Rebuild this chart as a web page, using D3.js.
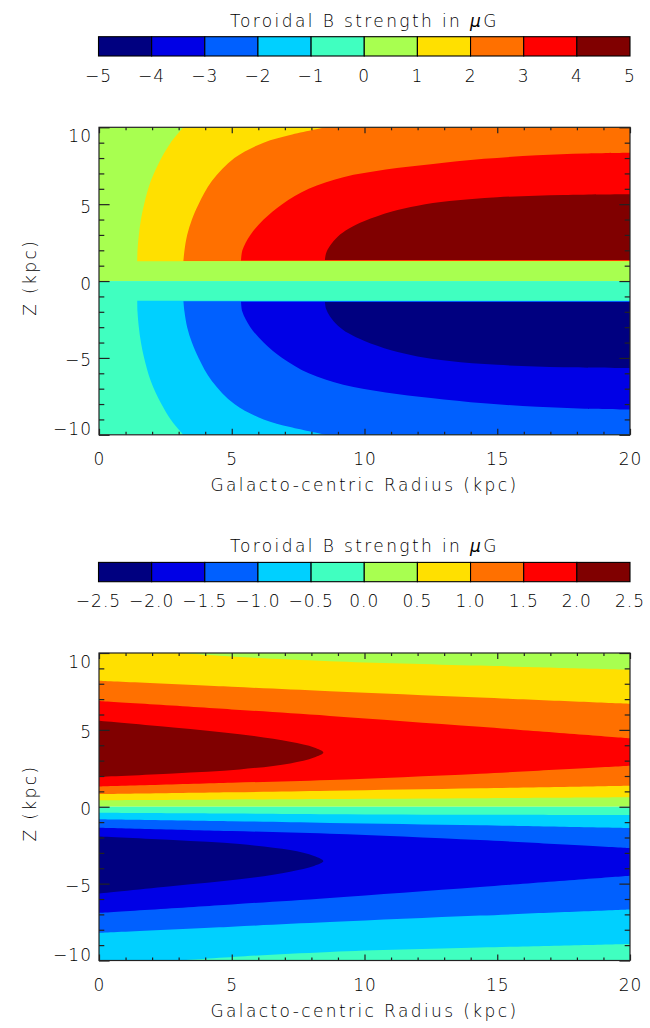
<!DOCTYPE html>
<html>
<head>
<meta charset="utf-8">
<script src="https://cdn.jsdelivr.net/npm/d3@7"></script>
<style>
  body { margin: 0; background: #fff; }
  svg text { font-family: "DejaVu Sans", sans-serif; font-weight: 200; font-size: 17px; fill: #000; letter-spacing: 1px; }
  svg text.title { letter-spacing: 2.4px; }
  .tick line { stroke: #222; stroke-width: 1.2; }
</style>
</head>
<body>
<svg id="chart" width="650" height="1028"></svg>
<script>
// ---------------- data ----------------
// one colour per band between consecutive contour levels
const bandColors = ["#000080", "#0000e6", "#0060ff", "#00d0ff", "#40ffc0",
                    "#a8ff50", "#ffe000", "#ff7000", "#ff0000", "#800000"];
const levelsDisk = [-5, -4, -3, -2, -1, 0, 1, 2, 3, 4, 5];
const levelsHalo = [-2.5, -2, -1.5, -1, -0.5, 0, 0.5, 1, 1.5, 2, 2.5];
const radiusTicks = [0, 5, 10, 15, 20];
const heightTicks = [-10, -5, 0, 5, 10];

// Disk field: contour of each level as [R (kpc), Z (kpc)]; the first point sits on
// the inner edge of the region, the last one on the top/bottom or right frame.
const diskPos1 = [[1.44, 1.28], [1.45, 2], [1.5, 3], [1.58, 4], [1.7, 5], [1.95, 6.5], [2.35, 8], [2.7, 9], [3.18, 10]];
const diskPos2 = [[3.18, 1.31], [3.22, 2], [3.32, 3], [3.5, 4], [3.75, 5], [4.25, 6.5], [5.1, 8], [6.2, 9], [7.2, 9.5], [8.55, 10]];
const diskPos3 = [[5.35, 1.34], [5.4, 2], [5.7, 3], [6.2, 4], [6.9, 5], [7.9, 6], [9.2, 6.75], [10.8, 7.25], [12.5, 7.6], [14.5, 7.95], [16.5, 8.18], [18.3, 8.3], [20, 8.35]];
const diskPos4 = [[8.51, 1.37], [8.55, 1.8], [8.7, 2.3], [9.0, 2.9], [9.4, 3.4], [10, 3.9], [11, 4.5], [12, 4.9], [13.2, 5.2], [15, 5.45], [17.5, 5.6], [20, 5.65]];
const diskNeg1 = [[1.44, -1.28], [1.45, -2], [1.5, -3], [1.58, -4], [1.7, -5], [1.95, -6.5], [2.35, -8], [2.7, -9], [3.18, -10]];
const diskNeg2 = [[3.18, -1.31], [3.22, -2], [3.32, -3], [3.5, -4], [3.75, -5], [4.25, -6.5], [5.1, -8], [6.2, -9], [7.2, -9.5], [8.55, -10]];
const diskNeg3 = [[5.35, -1.34], [5.4, -2], [5.7, -3], [6.2, -4], [6.9, -5], [7.9, -6], [9.2, -6.75], [10.8, -7.25], [12.5, -7.6], [14.5, -7.95], [16.5, -8.18], [18.3, -8.3], [20, -8.35]];
const diskNeg4 = [[8.51, -1.37], [8.55, -1.8], [8.7, -2.3], [9.0, -2.9], [9.4, -3.4], [10, -3.9], [11, -4.5], [12, -4.9], [13.2, -5.2], [15, -5.45], [17.5, -5.6], [20, -5.65]];

// Halo field: each band is bounded by an inner (near the plane) and an outer contour
const haloPos05Inner = [[0, 0.42], [5, 0.47], [8.7, 0.51], [14.35, 0.56], [20, 0.62]];
const haloPos05Outer = [[3, 10], [5.5, 9.72], [8.7, 9.47], [14.35, 9.18], [20, 8.92]];
const haloPos10Inner = [[0, 0.82], [5, 0.94], [8.7, 1.04], [14.35, 1.2], [20, 1.37]];
const haloPos10Outer = [[0, 8.19], [5, 7.8], [8.7, 7.51], [14.35, 7.1], [20, 6.7]];
const haloPos15Inner = [[0, 1.32], [5, 1.56], [8.7, 1.74], [14.35, 2.15], [20, 2.66]];
const haloPos15Outer = [[0, 6.87], [5, 6.33], [8.7, 5.91], [14.35, 5.2], [20, 4.46]];
const haloPos20 = [[0, 5.6], [2.8, 5.16], [5.3, 4.72], [7.2, 4.22], [8.1, 3.85], [8.45, 3.53],
                   [8.1, 3.2], [7.2, 2.82], [5.3, 2.43], [2.8, 2.17], [0, 1.95]];
const haloNeg05Inner = [[0, -0.39], [5, -0.44], [8.7, -0.48], [14.35, -0.52], [20, -0.55]];
const haloNeg05Outer = [[3, -10], [5.5, -9.72], [8.7, -9.44], [14.35, -9.16], [20, -8.92]];
const haloNeg10Inner = [[0, -0.81], [5, -0.94], [8.7, -1.05], [14.35, -1.2], [20, -1.38]];
const haloNeg10Outer = [[0, -8.2], [5, -7.8], [8.7, -7.5], [14.35, -7.08], [20, -6.69]];
const haloNeg15Inner = [[0, -1.36], [5, -1.58], [8.7, -1.76], [14.35, -2.17], [20, -2.69]];
const haloNeg15Outer = [[0, -6.9], [5, -6.35], [8.7, -5.93], [14.35, -5.22], [20, -4.49]];
const haloNeg20 = [[0, -1.94], [2.8, -2.17], [5.3, -2.43], [7.2, -2.82], [8.1, -3.2], [8.45, -3.53],
                   [8.1, -3.85], [7.2, -4.22], [5.3, -4.72], [2.8, -5.16], [0, -5.65]];

// ---------------- layout ----------------
const svg = d3.select("#chart");
const X0 = 99, X1 = 630, PLOT_H = 307.5;
const x = d3.scaleLinear([0, 20], [X0, X1]);

const diskRegions = [
  { level: 1, pts: diskPos1 }, { level: 2, pts: diskPos2 }, { level: 3, pts: diskPos3 }, { level: 4, pts: diskPos4 },
  { level: -1, pts: diskNeg1 }, { level: -2, pts: diskNeg2 }, { level: -3, pts: diskNeg3 }, { level: -4, pts: diskNeg4 }
];
const haloBands = [
  { level: 0.5, inner: haloPos05Inner, outer: haloPos05Outer },
  { level: 1.0, inner: haloPos10Inner, outer: haloPos10Outer },
  { level: 1.5, inner: haloPos15Inner, outer: haloPos15Outer },
  { level: -0.5, inner: haloNeg05Inner, outer: haloNeg05Outer },
  { level: -1.0, inner: haloNeg10Inner, outer: haloNeg10Outer },
  { level: -1.5, inner: haloNeg15Inner, outer: haloNeg15Outer }
];
const haloCores = [{ level: 2, pts: haloPos20 }, { level: -2, pts: haloNeg20 }];

function makeLine(y) {
  return d3.line().x(d => x(d[0])).y(d => y(d[1])).curve(d3.curveCatmullRom.alpha(0.5));
}

// colour of the band just beyond a level (above for positive, below for negative)
function bandFill(levels, level) {
  const step = levels[1] - levels[0];
  const mid = level + (level > 0 ? step / 2 : -step / 2);
  const color = d3.scaleThreshold().domain(levels.slice(1, -1)).range(bandColors);
  return color(mid);
}

function halfPlanes(field, y, levels) {
  field.append("rect").attr("x", x(0)).attr("y", y(10)).attr("width", x(20) - x(0))
    .attr("height", y(0) - y(10)).attr("fill", bandFill(levels, 0.0001));
  field.append("rect").attr("x", x(0)).attr("y", y(0)).attr("width", x(20) - x(0))
    .attr("height", y(-10) - y(0)).attr("fill", bandFill(levels, -0.0001));
}

function drawDisk(field, y, levels) {
  halfPlanes(field, y, levels);
  const line = makeLine(y);
  diskRegions.forEach(({ level, pts }) => {
    const first = pts[0], last = pts[pts.length - 1];
    let d = line(pts);
    if (Math.abs(last[1]) >= 10) d += `L${x(20)},${y(last[1])}`;
    d += `L${x(20)},${y(first[1])}Z`;
    field.append("path").attr("d", d).attr("fill", bandFill(levels, level));
  });
}

function drawHalo(field, y, levels) {
  halfPlanes(field, y, levels);
  const line = makeLine(y);
  haloBands.forEach(({ level, inner, outer }) => {
    let d = line(inner) + line(outer.slice().reverse()).replace(/^M/, "L");
    if (outer[0][0] > 0) d += `L${x(0)},${y(outer[0][1])}`;
    d += "Z";
    field.append("path").attr("d", d).attr("fill", bandFill(levels, level));
  });
  haloCores.forEach(({ level, pts }) => {
    field.append("path").attr("d", line(pts) + "Z").attr("fill", bandFill(levels, level));
  });
}

function axes(g, y, top) {
  const bottom = top + PLOT_H;
  const minorX = d3.range(0, 21).filter(v => v % 5 !== 0);
  const minorZ = d3.range(-10, 11).filter(v => v % 5 !== 0);
  const clean = s => s.call(a => a.select(".domain").remove()).attr("font-size", null).attr("font-family", null);

  // bottom: labelled major ticks + minor ticks
  const bx = g.append("g").attr("transform", `translate(0,${bottom})`)
    .call(d3.axisBottom(x).tickValues(radiusTicks).tickSizeInner(-6).tickSizeOuter(0).tickFormat(d3.format("d")));
  clean(bx);
  bx.selectAll("text").attr("y", 30.5).attr("dy", null);
  clean(g.append("g").attr("transform", `translate(0,${bottom})`)
    .call(d3.axisBottom(x).tickValues(minorX).tickSizeInner(-3).tickSizeOuter(0).tickFormat("")));
  // top
  clean(g.append("g").attr("transform", `translate(0,${top})`)
    .call(d3.axisTop(x).tickValues(radiusTicks).tickSizeInner(-6).tickSizeOuter(0).tickFormat("")));
  clean(g.append("g").attr("transform", `translate(0,${top})`)
    .call(d3.axisTop(x).tickValues(minorX).tickSizeInner(-3).tickSizeOuter(0).tickFormat("")));
  // left: labelled
  const ly = g.append("g").attr("transform", `translate(${X0},0)`)
    .call(d3.axisLeft(y).tickValues(heightTicks).tickSizeInner(-10.6).tickSizeOuter(0).tickFormat(d3.format("d")));
  clean(ly);
  ly.selectAll("text").attr("x", -7).attr("dy", null)
    .attr("y", d => Math.min(Math.max(y(d) + 8, top + 14), bottom) - y(d));
  clean(g.append("g").attr("transform", `translate(${X0},0)`)
    .call(d3.axisLeft(y).tickValues(minorZ).tickSizeInner(-5.3).tickSizeOuter(0).tickFormat("")));
  // right
  clean(g.append("g").attr("transform", `translate(${X1},0)`)
    .call(d3.axisRight(y).tickValues(heightTicks).tickSizeInner(-10.6).tickSizeOuter(0).tickFormat("")));
  clean(g.append("g").attr("transform", `translate(${X1},0)`)
    .call(d3.axisRight(y).tickValues(minorZ).tickSizeInner(-5.3).tickSizeOuter(0).tickFormat("")));

  // frame
  g.append("rect").attr("x", X0).attr("y", top).attr("width", X1 - X0).attr("height", PLOT_H)
    .attr("fill", "none").attr("stroke", "#222").attr("stroke-width", 1.2);

  // axis titles
  g.append("text").attr("class", "title").attr("x", (X0 + X1) / 2).attr("y", bottom + 56).attr("text-anchor", "middle")
    .text("Galacto-centric Radius (kpc)");
  g.append("text").attr("class", "title").attr("transform", `translate(36,${top + 150}) rotate(-90)`)
    .attr("text-anchor", "middle").text("Z (kpc)");
}

function colorbar(g, cbTop, levels, fmt) {
  const cx = d3.scaleLinear([levels[0], levels[levels.length - 1]], [X0 - 0.5, X1]);
  const cbH = 19.3;
  g.selectAll("rect.cb").data(d3.range(levels.length - 1)).join("rect").attr("class", "cb")
    .attr("x", i => cx(levels[i])).attr("width", i => cx(levels[i + 1]) - cx(levels[i]))
    .attr("y", cbTop).attr("height", cbH)
    .attr("fill", i => bandColors[i]).attr("stroke", "#000").attr("stroke-width", 1.1);
  g.selectAll("text.cbl").data(levels).join("text").attr("class", "cbl")
    .attr("x", d => cx(d)).attr("y", cbTop + 45).attr("text-anchor", "middle").text(d => fmt(d));
  const title = g.append("text").attr("class", "title").attr("x", (X0 + X1) / 2).attr("y", cbTop - 10).attr("text-anchor", "middle");
  title.append("tspan").text("Toroidal B strength in ");
  title.append("tspan").attr("font-style", "italic").text("\u03bc");
  title.append("tspan").text("G");
}

const panels = [
  { top: 127.3, levels: levelsDisk, fmt: d3.format("d"), draw: drawDisk },
  { top: 653.0, levels: levelsHalo, fmt: d3.format(".1f"), draw: drawHalo }
];

panels.forEach((p, i) => {
  const y = d3.scaleLinear([-10, 10], [p.top + PLOT_H, p.top]);
  const g = svg.append("g");
  svg.append("clipPath").attr("id", "plotclip" + i).append("rect")
    .attr("x", X0).attr("y", p.top).attr("width", X1 - X0).attr("height", PLOT_H);
  const field = g.append("g").attr("clip-path", `url(#plotclip${i})`);
  p.draw(field, y, p.levels);
  axes(g, y, p.top);
  colorbar(g, p.top - 90.6, p.levels, p.fmt);
});
</script>
</body>
</html>
